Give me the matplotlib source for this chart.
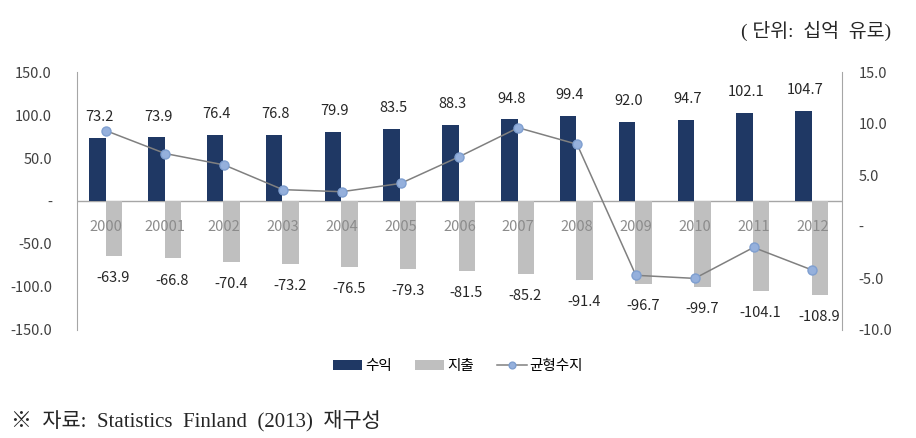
import numpy as np
import matplotlib.pyplot as plt
from matplotlib.ticker import FixedLocator

years = ['2000', '20001', '2002', '2003', '2004', '2005', '2006',
         '2007', '2008', '2009', '2010', '2011', '2012']
revenue = [73.2, 73.9, 76.4, 76.8, 79.9, 83.5, 88.3, 94.8, 99.4, 92.0, 94.7, 102.1, 104.7]
expense = [-63.9, -66.8, -70.4, -73.2, -76.5, -79.3, -81.5, -85.2, -91.4, -96.7, -99.7, -104.1, -108.9]
balance = [9.3, 7.1, 6.0, 3.6, 3.4, 4.2, 6.8, 9.6, 8.0, -4.7, -5.0, -2.0, -4.2]

left_ticks = [150, 100, 50, 0, -50, -100, -150]
right_ticks = [15, 10, 5, 0, -5, -10]

navy = '#1f3864'
grey = '#bfbfbf'
txt = '#404040'
kr = ['Noto Sans CJK KR', 'DejaVu Sans']
serif_kr = ['Liberation Serif', 'Noto Sans CJK KR']
plt.rcParams['font.family'] = kr

fig = plt.figure(figsize=(9.16, 4.38), dpi=100)
ax = fig.add_axes([0.084, 0.2466, 0.835, 0.589])
x = np.arange(len(years))
w = 0.28

ax.bar(x - 0.15, revenue, w, color=navy, label='수익', zorder=2)
ax.bar(x + 0.13, expense, w, color=grey, label='지출', zorder=2)

for i in range(len(years)):
    ax.annotate(f'{revenue[i]:.1f}', (x[i] - 0.12, revenue[i]), xytext=(0, 15),
                textcoords='offset points', ha='center', va='center',
                fontsize=10.5, color='#262626')
    ax.annotate(f'{expense[i]:.1f}', (x[i] + 0.12, expense[i]), xytext=(0, -16),
                textcoords='offset points', ha='center', va='center',
                fontsize=10.5, color='#262626')
    ax.text(x[i], -30, years[i], ha='center', va='center', fontsize=10.5,
            color='#8c8c8c', zorder=3)

ax.axhline(0, color='#a6a6a6', lw=1, zorder=1)
ax.set_xlim(-0.5, len(years) - 0.5)
ax.set_ylim(-150, 150)
ax.yaxis.set_major_locator(FixedLocator(left_ticks))
ax.set_yticklabels(['-' if t == 0 else f'{t:.1f}' for t in left_ticks])
ax.set_xticks([])
ax.tick_params(axis='y', length=0, pad=18, labelsize=10.5, labelcolor=txt)
for s in ['top', 'bottom', 'right']:
    ax.spines[s].set_visible(False)
ax.spines['left'].set_color('#a6a6a6')

ax2 = ax.twinx()
ax2.plot(x, balance, color='#808080', lw=1.1, marker='o', ms=6.5,
         mfc='#95b0dc', mec='#7f9fd0', mew=1, label='균형수지', zorder=4)
ax2.set_ylim(-10, 15)
ax2.yaxis.set_major_locator(FixedLocator(right_ticks))
ax2.set_yticklabels(['-' if t == 0 else f'{t:.1f}' for t in right_ticks])
ax2.tick_params(axis='y', length=0, pad=12, labelsize=10.5, labelcolor=txt)
for s in ['top', 'bottom', 'left']:
    ax2.spines[s].set_visible(False)
ax2.spines['right'].set_color('#a6a6a6')

h1, l1 = ax.get_legend_handles_labels()
h2, l2 = ax2.get_legend_handles_labels()
fig.legend(h1 + h2, l1 + l2, loc='center', bbox_to_anchor=(0.5, 0.164), ncol=3,
           frameon=False, fontsize=10.5, handlelength=2.0, handleheight=0.6,
           columnspacing=1.6, handletextpad=0.2, markerscale=0.75)

fig.text(0.973, 0.93, '( 단위:  십억  유로)', ha='right', va='center', fontsize=14,
         color='#262626', family=serif_kr)
fig.text(0.012, 0.04, '※  자료:  Statistics  Finland  (2013)  재구성', ha='left', va='center',
         fontsize=15, color='#262626', family=serif_kr)

fig.savefig('out.png', dpi=100)
